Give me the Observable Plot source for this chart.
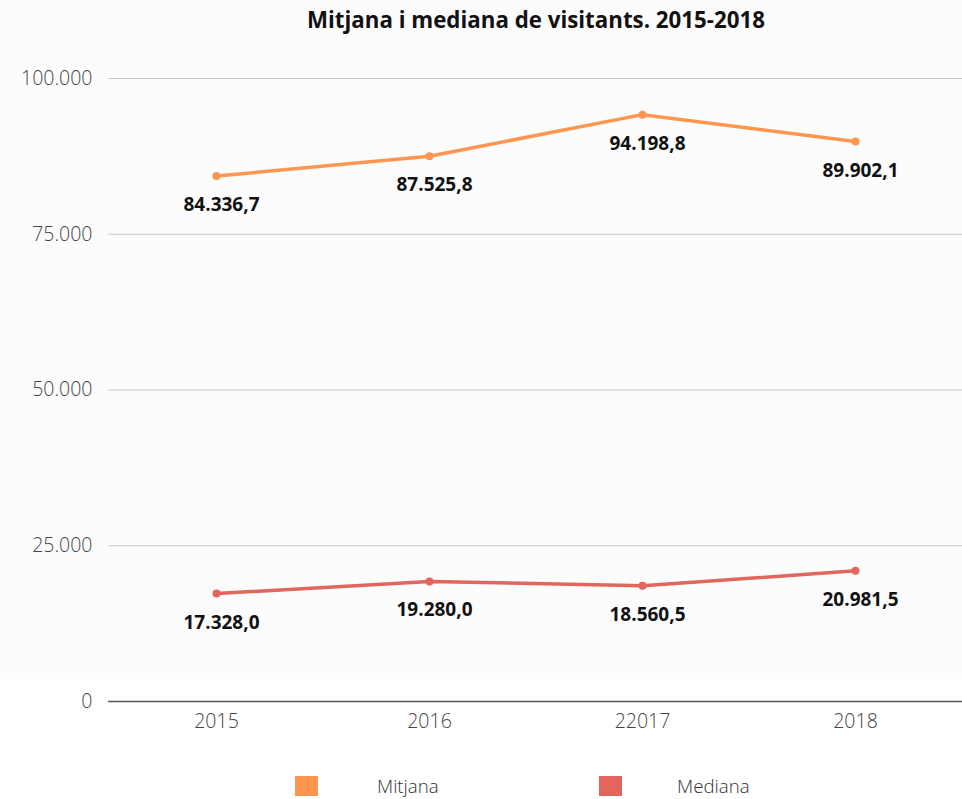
<!DOCTYPE html>
<html>
<head>
<meta charset="utf-8">
<script src="https://cdn.jsdelivr.net/npm/d3@7"></script>
<script src="https://cdn.jsdelivr.net/npm/@observablehq/plot@0.6"></script>
<style>
  html, body { margin: 0; padding: 0; }
  body {
    width: 962px; height: 799px; overflow: hidden;
    font-family: "Open Sans", sans-serif;
    background: linear-gradient(to bottom, #fcfcfc 0px, #fcfcfc 679px, #ffffff 679px);
  }
  #title {
    height: 40px; line-height: 40px; text-align: center;
    font-size: 22.3px; font-weight: 700; color: #111;
    padding-left: 110px; box-sizing: border-box;
  }
  #chart svg { display: block; background: transparent; }
  #chart svg g[aria-label="x-axis tick label"] text,
  #chart svg g[aria-label="y-axis tick label"] text { font-weight: 300; }
  #legend {
    height: 59px; position: relative;
  }
  .item { position: absolute; top: 35px; display: flex; align-items: center; font-size: 18.7px; line-height: 22px; color: #333; font-weight: 300; }
  .sw { width: 23px; height: 20px; display: inline-block; }
</style>
</head>
<body>
<div id="title">Mitjana i mediana de visitants. 2015-2018</div>
<div id="chart"></div>
<div id="legend"></div>
<script>
const years = ["2015", "2016", "22017", "2018"];
const seriesNames = ["Mitjana", "Mediana"];
const mitjana = [84336.7, 87525.8, 94198.8, 89902.1];
const mediana = [17328.0, 19280.0, 18560.5, 20981.5];
const colors = ["#ff9650", "#e2655e"];
const yTicks = [0, 25000, 50000, 75000, 100000];

const data = [];
years.forEach((y, i) => {
  data.push({year: y, series: seriesNames[0], value: mitjana[i]});
  data.push({year: y, series: seriesNames[1], value: mediana[i]});
});

const fmtLabel = v => v.toLocaleString("de-DE", {minimumFractionDigits: 1, maximumFractionDigits: 1});
const fmtTick = v => v === 0 ? "0" : v.toLocaleString("de-DE");

const chart = Plot.plot({
  width: 962,
  height: 700,
  marginTop: 38,
  marginBottom: 39,
  marginLeft: 108,
  marginRight: 0,
  style: {fontFamily: "Open Sans, sans-serif", fontSize: "19.5px", color: "#444", background: "transparent"},
  x: {type: "point", domain: years, padding: 0.5, label: null, tickSize: 0, tickPadding: 13},
  y: {domain: [0, 100000], ticks: yTicks, tickFormat: fmtTick, label: null, tickSize: 0, tickPadding: 16},
  color: {domain: seriesNames, range: colors},
  marks: [
    Plot.gridY(yTicks.filter(d => d > 0), {stroke: "#c8c8c8", strokeOpacity: 1, strokeWidth: 1}),
    Plot.ruleY([0], {stroke: "#555", strokeWidth: 1.3}),
    Plot.line(data, {x: "year", y: "value", z: "series", stroke: "series", strokeWidth: 3.5}),
    Plot.dot(data, {x: "year", y: "value", fill: "series", r: 4}),
    Plot.text(data, {x: "year", y: "value", text: d => fmtLabel(d.value), dy: 29, dx: 5,
      fontSize: 19, fontWeight: 700, fill: "#111"})
  ]
});
document.getElementById("chart").appendChild(chart);

const legend = document.getElementById("legend");
const legendPos = [295, 599];
const legendGap = [59, 55];
seriesNames.forEach((name, i) => {
  const it = document.createElement("div");
  it.className = "item";
  it.style.left = legendPos[i] + "px";
  const sw = document.createElement("span");
  sw.className = "sw";
  sw.style.background = colors[i];
  const t = document.createElement("span");
  t.textContent = name;
  t.style.marginLeft = legendGap[i] + "px";
  it.appendChild(sw); it.appendChild(t);
  legend.appendChild(it);
});
</script>
</body>
</html>
